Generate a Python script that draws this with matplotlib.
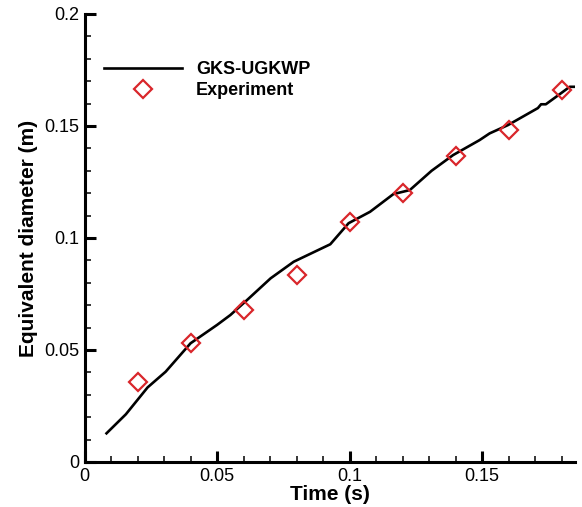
import matplotlib
matplotlib.use("Agg")
import matplotlib.pyplot as plt
from matplotlib.ticker import MultipleLocator, FuncFormatter

# Simulation curve (GKS-UGKWP)
sim_t = [0.0083, 0.0156, 0.0238, 0.0306, 0.040, 0.050, 0.055, 0.0613, 0.0702,
         0.0789, 0.0927, 0.0996, 0.1077, 0.1165, 0.1227, 0.1309, 0.139, 0.149,
         0.1528, 0.1597, 0.171, 0.1722, 0.174, 0.179, 0.183, 0.1848]
sim_d = [0.0128, 0.0213, 0.0333, 0.0403, 0.053, 0.0612, 0.0656, 0.0723, 0.082,
         0.0894, 0.0972, 0.1066, 0.1117, 0.1196, 0.1214, 0.130, 0.137, 0.1437,
         0.1467, 0.1504, 0.158, 0.1597, 0.1597, 0.164, 0.1675, 0.1675]

# Experiment
exp_t = [0.02, 0.04, 0.06, 0.08, 0.10, 0.12, 0.14, 0.16, 0.18]
exp_d = [0.0358, 0.053, 0.0679, 0.0837, 0.107, 0.120, 0.1368, 0.148, 0.166]

plt.rcParams['font.family'] = ['Liberation Sans', 'DejaVu Sans']

fig = plt.figure(figsize=(5.82, 5.07), dpi=100)
ax = fig.add_axes([84.5/582, 45/507, (575-84.5)/582, (462-14)/507])

ax.plot(sim_t, sim_d, color='black', lw=1.9, label='GKS-UGKWP', zorder=2)
ax.plot(exp_t, exp_d, linestyle='none', marker='D', markersize=9.5,
        markerfacecolor='none', markeredgecolor='#d9262b', markeredgewidth=1.6,
        label='Experiment', zorder=3)

ax.set_xlim(0, 0.185)
ax.set_ylim(0, 0.2)

for s in ['top', 'right']:
    ax.spines[s].set_visible(False)
for s in ['left', 'bottom']:
    ax.spines[s].set_linewidth(2.2)

ax.xaxis.set_major_locator(MultipleLocator(0.05))
ax.xaxis.set_minor_locator(MultipleLocator(0.01))
ax.yaxis.set_major_locator(MultipleLocator(0.05))
ax.yaxis.set_minor_locator(MultipleLocator(0.01))
fmt = FuncFormatter(lambda v, p: '%g' % round(v, 6))
ax.xaxis.set_major_formatter(fmt)
ax.yaxis.set_major_formatter(fmt)

ax.tick_params(which='major', direction='in', length=8, width=2.2, labelsize=13, pad=4)
ax.tick_params(which='minor', direction='in', length=4.5, width=1.1)

ax.set_xlabel('Time (s)', fontsize=15, fontweight='bold', labelpad=0)
ax.set_ylabel('Equivalent diameter (m)', fontsize=15, fontweight='bold', labelpad=4)

leg = ax.legend(loc='upper left', bbox_to_anchor=(0.0398, 0.895), frameon=False,
                borderaxespad=0, borderpad=0, handlelength=4.3, handletextpad=0.8,
                labelspacing=0.22, prop={'size': 13, 'weight': 'bold'})

fig.savefig('out.png', dpi=100)
